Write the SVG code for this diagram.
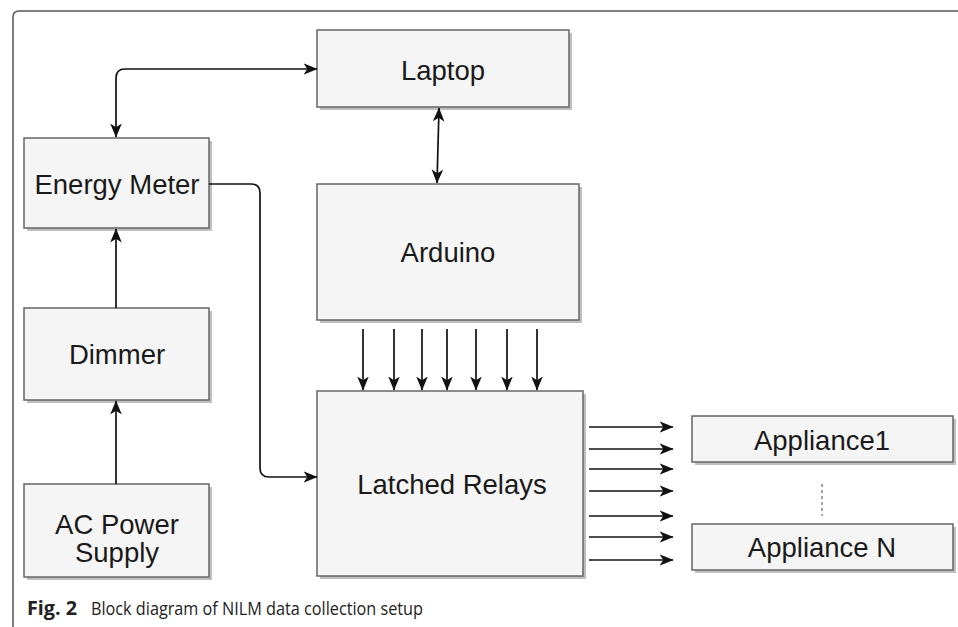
<svg xmlns="http://www.w3.org/2000/svg" width="958" height="627" viewBox="0 0 958 627">
<style>
.box{fill:#f5f5f5;stroke:#666;stroke-width:1.5}
.sh{fill:#bfbfbf}
.lbl{font-family:"Liberation Sans",Arial,sans-serif;font-size:27.5px;fill:#1a1a1a;text-anchor:middle}
.c{fill:none;stroke:#111;stroke-width:1.7}
.a{marker-end:url(#ar)}
.b{marker-start:url(#ar);marker-end:url(#ar)}
.cap{font-family:"Open Sans","DejaVu Sans",sans-serif;font-size:19px;fill:#222}
</style>
<defs>
<marker id="ar" viewBox="0 0 14 14" refX="13.5" refY="7" markerWidth="14" markerHeight="14" markerUnits="userSpaceOnUse" orient="auto-start-reverse">
<path d="M0,1.2 L14,7 L0,12.8 L3.8,7 z" fill="#111"/>
</marker>
</defs>
<rect width="958" height="627" fill="#fff"/>
<path d="M13,627 V17 Q13,11 19,11 H958" fill="none" stroke="#555" stroke-width="1.5"/>

<g id="laptop"><rect class="sh" x="320" y="33" width="252" height="77"/><rect class="box" x="317" y="30" width="252" height="77"/><text class="lbl" x="443" y="80">Laptop</text></g>
<g id="arduino"><rect class="sh" x="320" y="187" width="262" height="136"/><rect class="box" x="317" y="184" width="262" height="136"/><text class="lbl" x="448" y="262">Arduino</text></g>
<g id="energy-meter"><rect class="sh" x="27" y="141" width="185" height="90"/><rect class="box" x="24" y="138" width="185" height="90"/><text class="lbl" x="117" y="194">Energy Meter</text></g>
<g id="dimmer"><rect class="sh" x="27" y="311" width="185" height="92"/><rect class="box" x="24" y="308" width="185" height="92"/><text class="lbl" x="117" y="364">Dimmer</text></g>
<g id="ac-power-supply"><rect class="sh" x="27" y="487" width="185" height="93"/><rect class="box" x="24" y="484" width="185" height="93"/><text class="lbl" x="117" y="534">AC Power</text><text class="lbl" x="117" y="562">Supply</text></g>
<g id="latched-relays"><rect class="sh" x="320" y="394" width="266" height="185"/><rect class="box" x="317" y="391" width="266" height="185"/><text class="lbl" x="452" y="494">Latched Relays</text></g>
<g id="appliance1"><rect class="sh" x="695" y="419" width="261" height="46"/><rect class="box" x="692" y="416" width="261" height="46"/><text class="lbl" x="822" y="450">Appliance1</text></g>
<g id="appliance-n"><rect class="sh" x="695" y="527" width="261" height="46"/><rect class="box" x="692" y="524" width="261" height="46"/><text class="lbl" x="822" y="557">Appliance N</text></g>

<g id="connectors">
<path class="c b" d="M116,137 V78 Q116,69 125,69 H317"/>
<path class="c b" d="M439,108 L437,183"/>
<path class="c a" d="M209,184 H251 Q260,184 260,193 V468 Q260,477 269,477 H317"/>
<path class="c a" d="M116,308 V229"/>
<path class="c a" d="M116,484 V401"/>
<path class="c a" d="M363,329 V390"/>
<path class="c a" d="M394,329 V390"/>
<path class="c a" d="M422,329 V390"/>
<path class="c a" d="M447,329 V390"/>
<path class="c a" d="M476,329 V390"/>
<path class="c a" d="M507,329 V390"/>
<path class="c a" d="M537,329 V390"/>
<path class="c a" d="M589,427 H673"/>
<path class="c a" d="M589,449 H673"/>
<path class="c a" d="M589,469 H673"/>
<path class="c a" d="M589,491 H673"/>
<path class="c a" d="M589,516 H673"/>
<path class="c a" d="M589,537 H673"/>
<path class="c a" d="M589,560 H673"/>
<path d="M822,484 V516" fill="none" stroke="#888" stroke-width="1.5" stroke-dasharray="3,3"/>
</g>

<text class="cap" x="27" y="615" font-weight="bold" textLength="50" lengthAdjust="spacingAndGlyphs">Fig. 2</text>
<text class="cap" x="91" y="615" textLength="332" lengthAdjust="spacingAndGlyphs">Block diagram of NILM data collection setup</text>
</svg>
